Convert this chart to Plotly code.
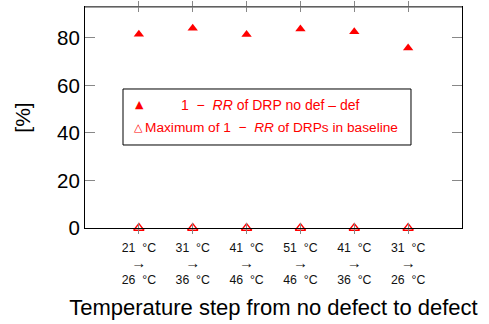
import plotly.graph_objects as go

# ---- data ----
steps = [1, 2, 3, 4, 5, 6]
ARROW = '<span style="font-size:15px">→</span>'
step_from = ["21 °C", "31 °C", "41 °C", "51 °C", "41 °C", "31 °C"]
step_to = ["26 °C", "36 °C", "46 °C", "46 °C", "36 °C", "26 °C"]
drp_no_def_def = [81.5, 84.1, 81.4, 83.7, 82.6, 75.7]
baseline_max = [0.0, 0.0, 0.0, 0.0, 0.0, 0.0]
y_ticks = [0, 20, 40, 60, 80]


def fmt(s):
    num, unit = s.split(" ")
    return f"{num}&nbsp; {unit}"


step_labels = [f"{fmt(a)}<br>{ARROW}<br>{fmt(b)}" for a, b in zip(step_from, step_to)]

RED = "#ff0000"
FONT = "Liberation Sans, Arial, Helvetica, sans-serif"

fig = go.Figure()
fig.add_trace(go.Scatter(
    x=steps, y=drp_no_def_def, mode="markers",
    marker=dict(symbol="triangle-up", size=9, color=RED, line=dict(width=0)),
    cliponaxis=False, showlegend=False,
))
fig.add_trace(go.Scatter(
    x=steps, y=baseline_max, mode="markers",
    marker=dict(symbol="triangle-up-open", size=9, color=RED, line=dict(width=1.3, color=RED)),
    cliponaxis=False, showlegend=False,
))

# invisible trace to carry the crossing-tick overlay axis
fig.add_trace(go.Scatter(x=steps, y=baseline_max, xaxis="x2", mode="markers",
                         marker=dict(opacity=0), showlegend=False, hoverinfo="skip"))

fig.update_layout(
    width=489, height=324,
    margin=dict(l=85, r=27, t=7, b=96, autoexpand=False),
    paper_bgcolor="white", plot_bgcolor="white",
    font=dict(family=FONT, color="black"),
    xaxis=dict(
        range=[0, 7], tickmode="array", tickvals=steps, ticktext=step_labels,
        tickfont=dict(size=12.3, color="#111"), ticklabelstandoff=8,
        ticks="inside", ticklen=5, tickcolor="#888", tickwidth=1,
        showline=True, linecolor="black", linewidth=1, mirror="ticks",
        showgrid=False, zeroline=False, automargin=False,
        title=dict(text="Temperature step from no defect to defect",
                   font=dict(size=22), standoff=13),
    ),
    xaxis2=dict(
        range=[0, 7], overlaying="x", side="bottom", anchor="y",
        tickmode="array", tickvals=steps, showticklabels=False,
        ticks="outside", ticklen=5, tickcolor="#888", tickwidth=1,
        showline=False, mirror="ticks", showgrid=False, zeroline=False,
        automargin=False,
    ),
    yaxis=dict(
        range=[0, 93], tickmode="array", tickvals=y_ticks,
        tickfont=dict(size=20.5),
        ticks="inside", ticklen=10, tickcolor="#888", tickwidth=1,
        showline=True, linecolor="black", linewidth=1, mirror="ticks",
        showgrid=False, zeroline=False, automargin=False,
        title=dict(text="[%]", font=dict(size=21), standoff=20),
    ),
    showlegend=False,
)

# top frame line (appears grey in the reference)
fig.add_shape(type="line", xref="paper", yref="paper", x0=0, x1=1, y0=1, y1=1,
              line=dict(color="#808080", width=1.5), layer="above")

# custom legend box
fig.add_shape(type="rect", xref="paper", yref="paper",
              x0=0.1008, x1=0.8647, y0=0.3756, y1=0.629,
              line=dict(color="black", width=1), fillcolor="white", layer="above")
fig.add_annotation(xref="paper", yref="paper", x=0.1273, y=0.5566, text="▲",
                   showarrow=False, font=dict(family="DejaVu Sans", size=11, color=RED))
fig.add_annotation(xref="paper", yref="paper", x=0.492, y=0.5566,
                   text="1 &nbsp;−&nbsp; <i>RR</i> of DRP no def – def",
                   showarrow=False, font=dict(family=FONT, size=14, color=RED))
fig.add_annotation(xref="paper", yref="paper", x=0.1247, y=0.4525, text="△",
                   showarrow=False, font=dict(family="DejaVu Sans", size=11, color=RED))
fig.add_annotation(xref="paper", yref="paper", x=0.1538, y=0.4525, xanchor="left",
                   text="Maximum of 1 &nbsp;−&nbsp; <i>RR</i> of DRPs in baseline",
                   showarrow=False, font=dict(family=FONT, size=13.7, color=RED))

fig.write_html("out.html", config={"displayModeBar": False},
               post_script="document.body.style.margin='0';")
